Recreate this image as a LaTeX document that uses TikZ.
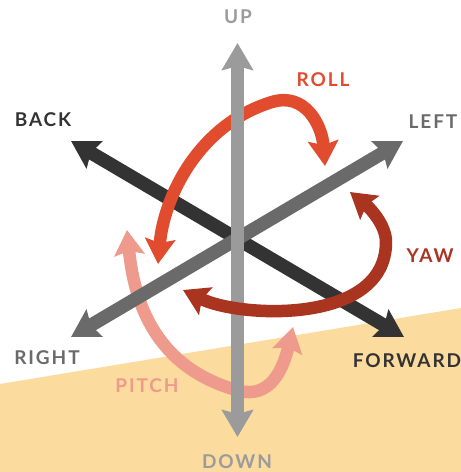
\documentclass[tikz,border=0pt]{standalone}
\usepackage{fontspec}
\setmainfont{Lato}[UprightFont=* Bold,LetterSpace=10]
\usetikzlibrary{arrows.meta}
\definecolor{sand}{HTML}{FBDB9E}
\definecolor{axV}{HTML}{9B9B9B}
\definecolor{axG}{HTML}{6A6A6A}
\definecolor{axK}{HTML}{333333}
\definecolor{rollc}{HTML}{E14B2E}
\definecolor{yawc}{HTML}{A9341F}
\definecolor{pitchc}{HTML}{EE9A8C}
\tikzset{
  axis line/.style={line width=13.5pt,{Stealth[length=27pt,width=31pt,inset=4pt]}-{Stealth[length=27pt,width=31pt,inset=4pt]}},
  turn line/.style={line width=12.5pt,{Stealth[length=25pt,width=30pt,inset=4pt]}-{Stealth[length=25pt,width=30pt,inset=4pt]}},
  lab/.style={font=\fontsize{19}{19}\selectfont,inner sep=0pt,anchor=center},
}
\begin{document}
\begin{tikzpicture}[x=1pt,y=-1pt]
\useasboundingbox (0,0) rectangle (461,472);
\fill[sand] (0,384) -- (461,308) -- (461,472) -- (0,472) -- cycle;
% end points
\coordinate (upT) at (237.5,43);
\coordinate (downT) at (237.5,437);
\coordinate (leftT) at (403,141);
\coordinate (rightT) at (71,337);
\coordinate (backT) at (71,141);
\coordinate (forwardT) at (404,337);
\coordinate (rollA) at (158,264);
\coordinate (rollM) at (272,102);
\coordinate (rollB) at (325,166);
\coordinate (pitchA) at (127,230);
\coordinate (pitchM) at (240,391);
\coordinate (pitchB) at (293,327);
\coordinate (yawA) at (183,290);
\coordinate (yawM) at (386,242);
\coordinate (yawB) at (350,192);
% layers, back to front
\draw[axis line,axK] (backT) -- (forwardT);
\draw[turn line,rollc] (rollA) .. controls (164,195) and (200,124) .. (rollM) .. controls (305,92) and (322,125) .. (rollB);
\draw[turn line,pitchc] (pitchA) .. controls (133,290) and (148,367) .. (pitchM) .. controls (270,398) and (283,370) .. (pitchB);
\draw[axis line,axG] (rightT) -- (leftT);
\draw[axis line,axV] (upT) -- (downT);
\draw[turn line,yawc] (yawA) .. controls (240,318) and (386,325) .. (yawM) .. controls (386,225) and (370,208) .. (yawB);
% labels
\node[lab,text=axV] (up) at (238,17) {UP};
\node[lab,text=axV] (down) at (237,461.5) {DOWN};
\node[lab,text=axK] (back) at (43,120) {BACK};
\node[lab,text=axG] (left) at (433,122) {LEFT};
\node[lab,text=axG] (right) at (47,358) {RIGHT};
\node[lab,text=axK] (forward) at (407,361) {FORWARD};
\node[lab,text=rollc] (roll) at (323,80) {ROLL};
\node[lab,text=yawc] (yaw) at (430,256) {YAW};
\node[lab,text=pitchc] (pitch) at (147,386) {PITCH};
\end{tikzpicture}
\end{document}
